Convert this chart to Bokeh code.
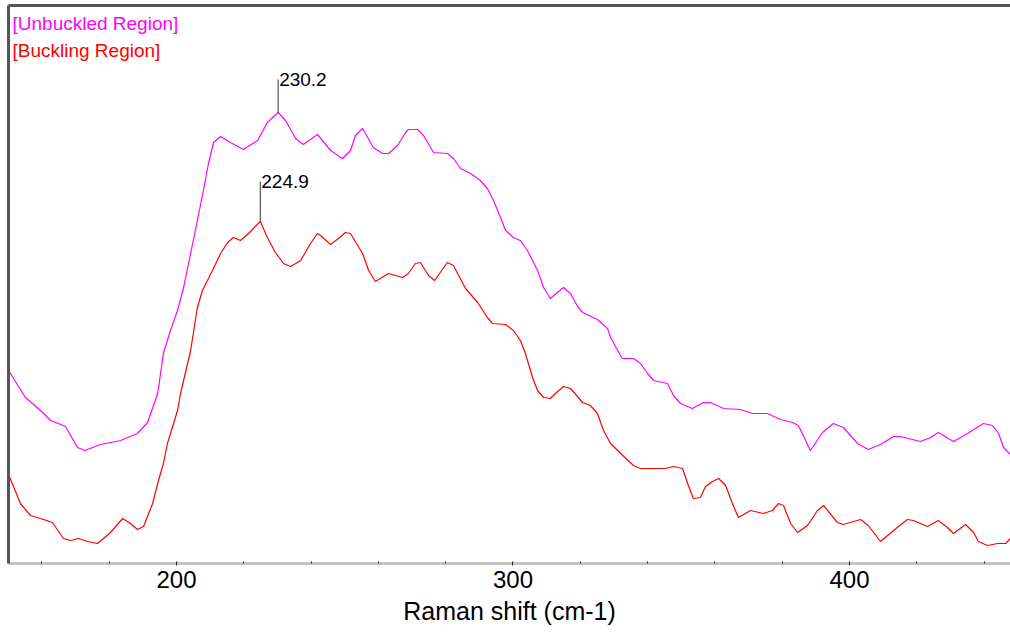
from bokeh.plotting import figure
from bokeh.models import Range1d, LinearAxis, FixedTicker, Label
from bokeh.embed import file_html
from bokeh.resources import INLINE

# ---------------- data (Raman shift, cm-1  /  intensity, a.u.) ----------------
shift_unbuckled = [150.1, 155.1, 159.6, 162.6, 167.0, 170.6, 172.7, 177.4, 183.4, 188.4,
                   191.4, 194.4, 196.1, 198.2, 200.3, 202.1, 204.2, 206.2, 208.0, 209.5,
                   211.0, 213.1, 216.0, 219.9, 224.1, 227.0, 230.2, 232.4, 235.4, 237.7,
                   241.9, 245.8, 249.3, 251.7, 253.2, 255.3, 258.5, 261.2, 263.0, 265.7,
                   268.1, 268.9, 271.6, 273.4, 276.4, 280.5, 282.3, 284.4, 287.4, 290.3,
                   292.4, 294.2, 296.3, 297.8, 300.1, 302.2, 304.3, 307.3, 309.1, 311.1,
                   315.0, 317.1, 319.2, 320.7, 325.1, 328.1, 329.0, 331.1, 332.5, 335.8,
                   337.9, 340.0, 341.8, 345.9, 347.7, 349.8, 353.3, 356.6, 358.7, 362.6,
                   367.6, 371.2, 375.6, 379.5, 383.1, 384.8, 388.4, 392.0, 395.2, 398.2,
                   402.4, 405.6, 409.2, 413.1, 415.2, 421.1, 424.1, 426.4, 430.9, 435.1,
                   439.8, 442.5, 444.3, 445.8, 447.8]
int_unbuckled = [193, 166, 153, 143, 137, 116, 113, 119, 123, 130,
                 141, 170, 210, 233, 253, 276, 310, 343, 373, 400,
                 421, 427, 421, 414, 423, 441, 451, 443, 425, 419,
                 429, 413, 405, 413, 428, 435, 416, 410, 410, 418,
                 431, 434, 434, 428, 411, 410, 405, 395, 390, 383,
                 375, 363, 346, 333, 326, 323, 313, 293, 276, 265,
                 276, 270, 257, 251, 244, 235, 226, 213, 205, 205,
                 200, 190, 183, 180, 168, 160, 155, 161, 161, 155,
                 154, 150, 150, 144, 141, 138, 113, 131, 140, 136,
                 120, 114, 119, 127, 127, 122, 126, 131, 122, 130,
                 140, 138, 130, 116, 109]

shift_buckling = [150.1, 153.6, 156.6, 160.5, 163.1, 166.4, 168.5, 170.9, 173.6, 176.5,
                  180.4, 184.0, 186.3, 188.4, 190.2, 192.9, 194.4, 196.1, 197.3, 200.3,
                  201.2, 204.2, 206.2, 207.7, 210.7, 213.1, 215.2, 216.9, 219.0, 221.4,
                  224.9, 227.0, 229.4, 231.8, 233.9, 236.9, 239.8, 241.9, 242.8, 245.8,
                  248.1, 250.2, 251.7, 255.3, 257.1, 259.1, 263.0, 267.2, 268.9, 271.0,
                  272.5, 274.9, 276.7, 280.5, 282.3, 285.9, 289.5, 292.4, 293.9, 297.8,
                  300.1, 302.2, 303.7, 305.8, 307.3, 309.1, 311.1, 312.6, 315.0, 317.1,
                  320.7, 323.0, 325.1, 326.9, 329.0, 332.0, 335.8, 337.9, 345.3, 347.7,
                  350.4, 351.9, 353.6, 355.7, 357.2, 359.3, 361.1, 363.2, 365.2, 367.0,
                  370.6, 374.4, 377.1, 378.9, 380.4, 382.5, 384.6, 387.5, 390.5, 392.3,
                  396.4, 398.2, 403.3, 405.6, 409.2, 413.1, 417.2, 419.0, 423.2, 426.4,
                  429.1, 430.9, 434.5, 436.9, 438.3, 441.0, 444.0, 446.4, 447.8]
int_buckling = [89, 60, 48, 44, 41, 25, 23, 25, 22, 20,
                31, 45, 40, 34, 37, 60, 80, 100, 120, 153,
                170, 213, 256, 273, 293, 310, 321, 326, 323, 330,
                342, 326, 311, 300, 297, 303, 320, 330, 328, 319,
                325, 331, 330, 310, 293, 282, 290, 286, 290, 300,
                301, 288, 283, 301, 298, 275, 261, 246, 240, 239,
                233, 223, 210, 186, 173, 166, 165, 170, 177, 175,
                161, 158, 150, 133, 120, 110, 98, 95, 95, 97,
                95, 80, 65, 66, 77, 82, 85, 78, 60, 46,
                53, 50, 53, 60, 58, 40, 31, 38, 53, 58,
                41, 39, 44, 38, 22, 33, 44, 43, 37, 43,
                36, 30, 39, 31, 22, 18, 20, 20, 25]

series_names = ["[Unbuckled Region]", "[Buckling Region]"]
series_colors = ["#ff00ff", "#ff0000"]

peak_shifts = [230.2, 224.9]
peak_heights = [451, 342]
peak_texts = ["230.2", "224.9"]

x_major_ticks = [200, 300, 400]
x_minor_ticks = [160, 180, 220, 240, 260, 280, 320, 340, 360, 380, 420, 440]
x_title = "Raman shift (cm-1)"

FONT = "Liberation Sans"

# ---------------- figure ----------------
p = figure(width=1010, height=632, output_backend="svg", toolbar_location=None,
           x_range=Range1d(150.07, 447.85), y_range=Range1d(0, 558),
           x_axis_location=None, y_axis_location=None,
           min_border_left=8, min_border_right=0, min_border_top=5, min_border_bottom=69)
p.outline_line_color = None
p.xgrid.visible = False
p.ygrid.visible = False
p.background_fill_color = "white"
p.border_fill_color = "white"

# bottom axis
xaxis = LinearAxis(ticker=FixedTicker(ticks=x_major_ticks, minor_ticks=x_minor_ticks),
                   axis_label=x_title)
xaxis.axis_line_color = "#c4c4c4"
xaxis.axis_line_width = 3
xaxis.major_tick_line_color = "#222222"
xaxis.major_tick_in = 2
xaxis.major_tick_out = 2
xaxis.minor_tick_line_color = "#222222"
xaxis.minor_tick_in = 2
xaxis.minor_tick_out = 0
xaxis.major_label_text_font = FONT
xaxis.major_label_text_font_size = "24px"
xaxis.major_label_text_color = "black"
xaxis.major_label_standoff = 5
xaxis.axis_label_text_font = FONT
xaxis.axis_label_text_font_size = "25px"
xaxis.axis_label_text_font_style = "normal"
xaxis.axis_label_text_color = "black"
xaxis.axis_label_standoff = 6
p.add_layout(xaxis, "below")

# frame borders (left and top) drawn as bare axes
for loc in ("left", "above"):
    b = LinearAxis(ticker=FixedTicker(ticks=[]), major_label_text_font_size="0px",
                   major_tick_in=0, major_tick_out=0, minor_tick_in=0, minor_tick_out=0,
                   major_label_standoff=0, axis_line_color="#555555", axis_line_width=3)
    p.add_layout(b, loc)

# spectra
p.line(shift_unbuckled, int_unbuckled, line_color=series_colors[0], line_width=1.2)
p.line(shift_buckling, int_buckling, line_color=series_colors[1], line_width=1.2)

# peak markers
label_rise = [33, 40]
p.segment(x0=peak_shifts, y0=peak_heights,
          x1=peak_shifts, y1=[h + r for h, r in zip(peak_heights, label_rise)],
          line_color="#333333", line_width=1)
for xs, h, r, t in zip(peak_shifts, peak_heights, label_rise, peak_texts):
    p.add_layout(Label(x=xs, y=h + r, x_offset=1, text=t, text_font=FONT,
                       text_font_size="19px", text_color="black",
                       text_baseline="alphabetic", text_align="left"))

# legend (text only)
for i, (name, col) in enumerate(zip(series_names, series_colors)):
    p.add_layout(Label(x=4, y=540 - 27 * i, x_units="screen", y_units="screen",
                       text=name, text_font=FONT, text_font_size="19px",
                       text_color=col, text_baseline="alphabetic", text_align="left"))

open("out.html", "w").write(file_html(p, INLINE))
